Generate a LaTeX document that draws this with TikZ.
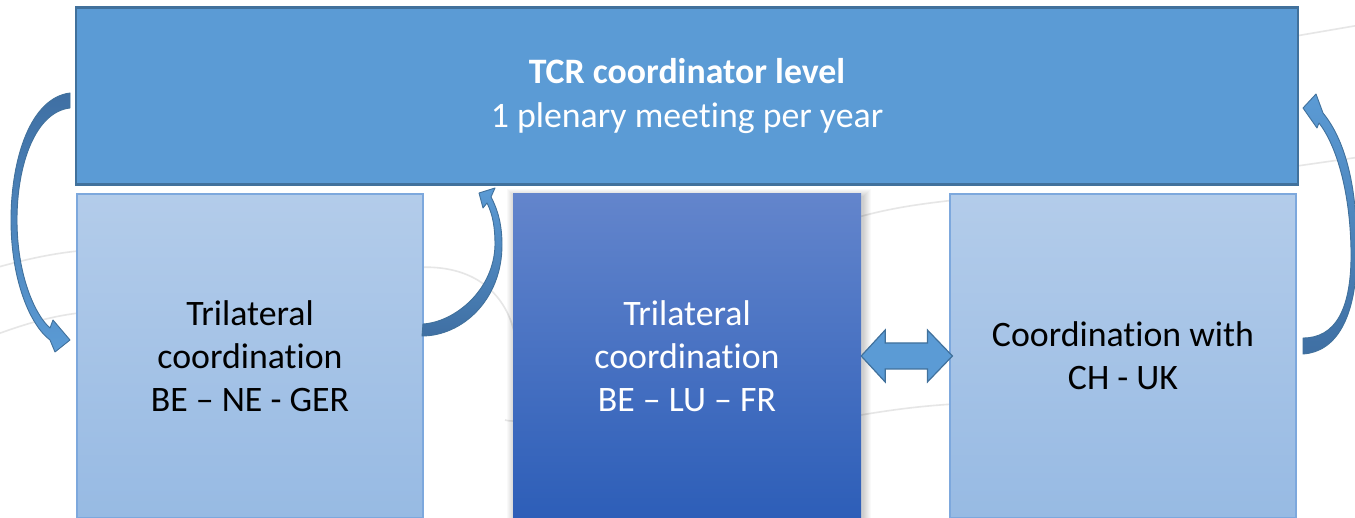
\documentclass[tikz,border=0pt]{standalone}
\usepackage{fontspec}
\setmainfont{Carlito}[Ligatures=NoCommon]
\usetikzlibrary{calc}
\definecolor{acc}{HTML}{5B9BD5}
\definecolor{accd}{HTML}{41719C}
\definecolor{accdd}{HTML}{3F6FA3}
\definecolor{ltop}{HTML}{B3CCEA}
\definecolor{lbot}{HTML}{97BAE3}
\definecolor{lborder}{HTML}{7DA8DD}
\definecolor{mtop}{HTML}{6385CC}
\definecolor{mbot}{HTML}{2D5EB8}
\definecolor{bgline}{HTML}{E6E6E6}
\tikzset{
  boxtext/.style={align=center, font=\fontsize{35.8pt}{43pt}\selectfont, inner sep=0pt},
  topbox/.style={boxtext, font=\fontsize{35.8pt}{44.5pt}\selectfont, draw=accd, line width=2.5pt, fill=acc, text=white,
    minimum width=1222pt, minimum height=177pt},
  sidebox/.style={boxtext, draw=lborder, line width=1.2pt, top color=ltop, bottom color=lbot,
    text=black, minimum width=346pt, minimum height=324pt},
  midbox/.style={boxtext, top color=mtop, bottom color=mbot, text=white,
    minimum width=348pt, minimum height=324pt},
  curvearrow/.style={draw=accd, line width=0.9pt, line join=round},
  dblarrow/.style={draw=accd, line width=1.2pt, fill=acc, line join=miter},
  bgcurve/.style={draw=bgline, line width=1.6pt}
}
\begin{document}
\begin{tikzpicture}[x=1pt,y=-1pt]
\useasboundingbox (0,0) rectangle (1355,518);
\clip (0,0) rectangle (1355,518);
\fill[white] (0,0) rectangle (1355,518);
% faint background curves
\draw[bgcurve] (-5,268) .. controls (30,258) and (60,252) .. (90,250);
\draw[bgcurve] (-5,335) .. controls (30,322) and (60,314) .. (90,312);
\draw[bgcurve] (410,268) .. controls (470,262) and (505,290) .. (515,335);
\draw[bgcurve] (505,420) .. controls (508,421) and (512,421) .. (515,421);
\draw[bgcurve] (855,218) .. controls (890,208) and (920,204) .. (955,200);
\draw[bgcurve] (855,416) .. controls (890,410) and (920,406) .. (955,404);
\draw[bgcurve] (1290,37) -- (1360,25);
\draw[bgcurve] (1290,167) -- (1360,157);
% boxes
\node[topbox] (top) at (687,96) {\textbf{TCR coordinator level}\\1 plenary meeting per year};
\node[sidebox] (left) at (250,356) {Trilateral\\coordination\\BE – NE - GER};
\node[sidebox] (right) at (1123,356) {Coordination with\\CH - UK};
% soft shadow of middle box
\foreach \s in {1,2,...,8}{
  \fill[black, opacity=0.025] ($(687,356)+(-174-\s+2,-162-\s+3)$) rectangle ($(687,356)+(174+\s+2,162+\s+3)$);
}
\node[midbox] (mid) at (687,356) {Trilateral\\coordination\\BE – LU – FR};
% double arrow between middle and right boxes
\draw[dblarrow] (mid.east) -- ++(24,-26) -- ++(0,13)
  -- ($(right.west)+(-22,-13)$) -- ++(0,-13) -- ($(right.west)+(3,0)$)
  -- ($(right.west)+(-22,26)$) -- ++(0,-13) -- ($(mid.east)+(24,13)$)
  -- ++(0,13) -- cycle;
% left curved arrow: top box -> left box
\path[curvearrow, top color=accdd, bottom color=acc]
  (70,93) .. controls (30,98) and (11,160) .. (11,220)
  .. controls (11,280) and (30,325) .. (50,340)
  -- (55,352) -- (70,340) -- (53,320) -- (50,328)
  .. controls (35,315) and (17,275) .. (17,220)
  .. controls (17,165) and (35,112) .. (70,108) -- cycle;
% middle curved arrow: left box -> top box
\path[curvearrow, top color=acc, bottom color=accdd]
  (422,336) .. controls (462,336) and (502,300) .. (502,245)
  .. controls (502,225) and (498,210) .. (491,197)
  -- (495,188) -- (479,193) -- (483,208) -- (487,203)
  .. controls (493,215) and (495,228) .. (495,245)
  .. controls (494,290) and (455,322) .. (423,324) -- cycle;
% right curved arrow: right box -> top box
\path[curvearrow, top color=acc, bottom color=accdd]
  (1303,354) .. controls (1335,352) and (1357,320) .. (1357,250)
  .. controls (1357,185) and (1345,140) .. (1323,113)
  -- (1316,94) -- (1303,108) -- (1317,128) -- (1319,123)
  .. controls (1336,145) and (1350,190) .. (1351,250)
  .. controls (1352,310) and (1335,338) .. (1303,338) -- cycle;
\end{tikzpicture}
\end{document}
